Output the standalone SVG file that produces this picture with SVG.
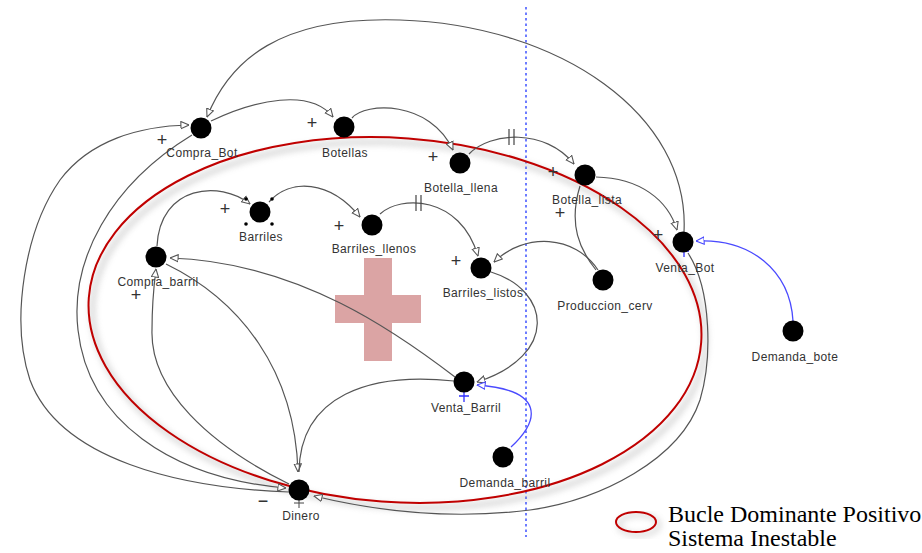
<svg xmlns="http://www.w3.org/2000/svg" width="922" height="553" viewBox="0 0 922 553">
<defs>
<style>
.lk{fill:none;stroke:#555;stroke-width:1.2}
.lkb{fill:none;stroke:#4a4aff;stroke-width:1.3}
.nd{fill:#000}
.lb{font-family:"Liberation Sans",Arial,sans-serif;font-size:12px;letter-spacing:0.4px;fill:#333;text-anchor:middle}
.pl{font-family:"Liberation Sans",Arial,sans-serif;font-size:18px;fill:#333;text-anchor:middle}
.dl{stroke:#444;stroke-width:1.2}
.lg{font-family:"Liberation Serif","Times New Roman",serif;font-size:24px;fill:#000}
</style>
<marker id="ah" viewBox="0 0 10 10" refX="9.5" refY="5" markerWidth="9" markerHeight="9" markerUnits="userSpaceOnUse" orient="auto"><path d="M0.5,1 L9.5,5 L0.5,9 Z" fill="#fff" stroke="#555" stroke-width="1.2"/></marker>
<marker id="ahb" viewBox="0 0 10 10" refX="9.5" refY="5" markerWidth="9" markerHeight="9" markerUnits="userSpaceOnUse" orient="auto"><path d="M0.5,1 L9.5,5 L0.5,9 Z" fill="#fff" stroke="#4a4aff" stroke-width="1.2"/></marker>
<filter id="blur" x="-20%" y="-20%" width="140%" height="140%"><feGaussianBlur stdDeviation="3"/></filter>
</defs>
<rect width="922" height="553" fill="#fff"/>

<g id="separator">
<line x1="526" y1="7" x2="526" y2="537" stroke="#4a5cff" stroke-width="1.6" stroke-dasharray="2.5,3"/>
</g>

<g id="cross">
<rect x="364" y="258" width="28" height="103" fill="#dba4a4"/>
<rect x="335" y="295" width="86" height="28" fill="#dba4a4"/>
</g>

<g id="loop-ellipse">
<ellipse cx="399" cy="325" rx="307" ry="182" transform="rotate(4.2 399 325)" fill="none" stroke="#999" stroke-width="5" opacity="0.4" filter="url(#blur)"/>
<ellipse cx="395" cy="320" rx="307" ry="182" transform="rotate(4.2 395 320)" fill="none" stroke="#c00000" stroke-width="2"/>
</g>

<g id="connectors">
<path class="lk" d="M211,121 C255,100 310,88 333,117" marker-end="url(#ah)"/>
<path class="lk" d="M352,118 C365,102 430,100 453,150" marker-end="url(#ah)"/>
<path class="lk" d="M469,154 C490,132 545,128 574,164" marker-end="url(#ah)"/>
<path class="lk" d="M596,177 C640,178 668,200 677,230" marker-end="url(#ah)"/>
<path class="lk" d="M684,232 C690,115 560,25 400,20 C280,16 230,60 207,117" marker-end="url(#ah)"/>
<path class="lk" d="M289,492 C180,488 60,460 30,380 C10,320 25,230 60,180 C90,140 140,126 189,125" marker-end="url(#ah)"/>
<path class="lk" d="M192,135 C110,185 70,260 78,330 C88,420 170,478 286,488" marker-end="url(#ah)"/>
<path class="lk" d="M289,484 C210,445 150,390 152,330 C152,300 154,285 156,269" marker-end="url(#ah)"/>
<path class="lk" d="M166,264 C240,300 295,370 298,472" marker-end="url(#ah)"/>
<path class="lk" d="M454,381 C370,372 300,395 299,472"/>
<path class="lk" d="M455,377 C400,335 300,262 170,258" marker-end="url(#ah)"/>
<path class="lk" d="M157,246 C160,185 220,180 250,204" marker-end="url(#ah)"/>
<path class="lk" d="M269,202 C290,178 330,180 360,217" marker-end="url(#ah)"/>
<path class="lk" d="M380,214 C400,195 460,195 478,256" marker-end="url(#ah)"/>
<path class="lk" d="M598,270 C575,235 525,232 494,262" marker-end="url(#ah)"/>
<path class="lk" d="M596,270 C580,250 568,225 580,186"/>
<path class="lk" d="M491,272 C550,290 560,355 477,382" marker-end="url(#ah)"/>
<path class="lk" d="M688,253 C712,290 712,360 700,400 C680,460 600,500 530,510 C450,520 380,512 314,496" marker-end="url(#ah)"/>
<path class="lkb" d="M511,447 C540,420 545,390 477,385" marker-end="url(#ahb)"/>
<path class="lkb" d="M793,321 C790,270 750,238 696,241" marker-end="url(#ahb)"/>
<line class="dl" x1="509" y1="129" x2="509" y2="145"/>
<line class="dl" x1="514" y1="129" x2="514" y2="145"/>
<line class="dl" x1="416" y1="195" x2="416" y2="211"/>
<line class="dl" x1="421" y1="195" x2="421" y2="211"/>
<text class="pl" x="312" y="129">+</text>
<text class="pl" x="162" y="146">+</text>
<text class="pl" x="433" y="163">+</text>
<text class="pl" x="553" y="178">+</text>
<text class="pl" x="560" y="219">+</text>
<text class="pl" x="658" y="241">+</text>
<text class="pl" x="225" y="215">+</text>
<text class="pl" x="339" y="232">+</text>
<text class="pl" x="456" y="267">+</text>
<text class="pl" x="136" y="301">+</text>
<text class="pl" x="263" y="507">−</text>
<path d="M684,246 V257 M679,251 H689" stroke="#3030ff" stroke-width="1.3"/>
<path d="M464,391 V402 M459,396 H469" stroke="#3030ff" stroke-width="1.3"/>
<path d="M299,498 V508 M294,503 H304" stroke="#444" stroke-width="1"/>
</g>

<g id="n-compra-bot"><circle class="nd" cx="201" cy="128" r="10.5"/><text class="lb" x="202" y="157">Compra_Bot</text></g>
<g id="n-botellas"><circle class="nd" cx="344" cy="127" r="10.5"/><text class="lb" x="345" y="157">Botellas</text></g>
<g id="n-botella-llena"><circle class="nd" cx="460" cy="163" r="10.5"/><text class="lb" x="461" y="192">Botella_llena</text></g>
<g id="n-botella-lista"><circle class="nd" cx="585" cy="175" r="10.5"/><text class="lb" x="587" y="204">Botella_lista</text></g>
<g id="n-venta-bot"><circle class="nd" cx="683" cy="242" r="10.5"/><text class="lb" x="685" y="272">Venta_Bot</text></g>
<g id="n-demanda-bote"><circle class="nd" cx="793" cy="331" r="10.5"/><text class="lb" x="795" y="361">Demanda_bote</text></g>
<g id="n-barriles"><circle class="nd" cx="260" cy="212" r="10.5"/><circle cx="246" cy="199" r="1.8"/><circle cx="272" cy="199" r="1.8"/><circle cx="246" cy="224" r="1.8"/><circle cx="272" cy="224" r="1.8"/><text class="lb" x="261" y="241">Barriles</text></g>
<g id="n-barriles-llenos"><circle class="nd" cx="372" cy="225" r="10.5"/><text class="lb" x="374" y="253">Barriles_llenos</text></g>
<g id="n-barriles-listos"><circle class="nd" cx="481" cy="268" r="10.5"/><text class="lb" x="483" y="297">Barriles_listos</text></g>
<g id="n-produccion-cerv"><circle class="nd" cx="603" cy="280" r="10.5"/><text class="lb" x="605" y="310">Produccion_cerv</text></g>
<g id="n-compra-barril"><circle class="nd" cx="156" cy="257" r="10.5"/><text class="lb" x="158" y="286">Compra_barril</text></g>
<g id="n-venta-barril"><circle class="nd" cx="464" cy="382" r="10.5"/><text class="lb" x="466" y="412">Venta_Barril</text></g>
<g id="n-demanda-barril"><circle class="nd" cx="503" cy="457" r="10.5"/><text class="lb" x="505" y="487">Demanda_barril</text></g>
<g id="n-dinero"><circle class="nd" cx="299" cy="490" r="10.5"/><text class="lb" x="301" y="520">Dinero</text></g>

<g id="legend">
<ellipse cx="639" cy="525" rx="20" ry="10" fill="none" stroke="#999" stroke-width="4" opacity="0.4" filter="url(#blur)"/>
<ellipse cx="636" cy="522" rx="20" ry="10" fill="none" stroke="#c00000" stroke-width="2"/>
<text class="lg" x="668" y="522">Bucle Dominante Positivo</text>
<text class="lg" x="668" y="546">Sistema Inestable</text>
</g>
</svg>
